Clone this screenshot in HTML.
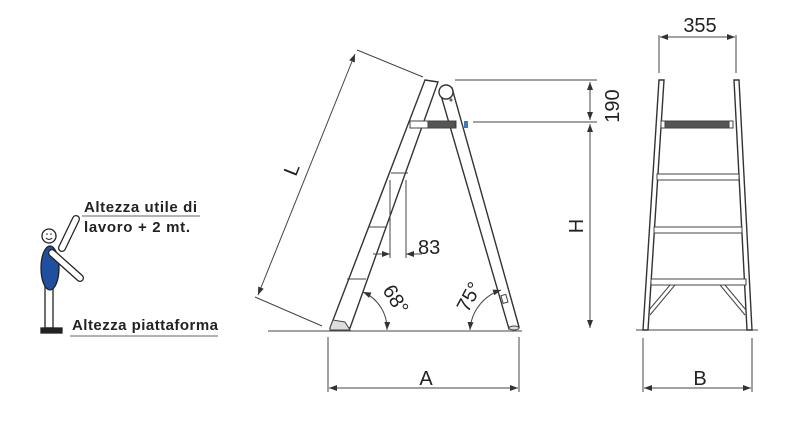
<!DOCTYPE html>
<html><head><style>body{margin:0;background:#fff}svg{display:block}</style></head><body>
<svg width="800" height="431" viewBox="0 0 800 431" xmlns="http://www.w3.org/2000/svg" font-family="Liberation Sans, sans-serif">
<defs><marker id="a" markerWidth="8" markerHeight="6" refX="8" refY="3" orient="auto-start-reverse" markerUnits="userSpaceOnUse"><path d="M0,0L8,3L0,6z" fill="#333"/></marker></defs>
<g stroke="#444" stroke-width="1" fill="none">
<line x1="268" y1="331" x2="522" y2="331"/>
<line x1="636" y1="330" x2="758" y2="330"/>
<path d="M425,80 L438,82 L350,328 L330,328 Z" fill="#fff" stroke="#333" stroke-width="1.4"/>
<path d="M330,328 L333,320 L345,322 L350,330 L330,330Z" fill="#ddd"/>
<path d="M440,92 L452,88 L519,327 L509,329 Z" fill="#fff" stroke="#333" stroke-width="1.4"/>
<ellipse cx="514" cy="328" rx="5" ry="2" fill="#ddd"/>
<rect x="502" y="295" width="5" height="8" transform="rotate(-16 504 299)"/>
<circle cx="446" cy="92" r="7" fill="#fff" stroke="#333" stroke-width="1.4"/>
<circle cx="451" cy="100" r="1"/>
<rect x="410" y="121" width="46" height="7" fill="#fff"/>
<rect x="428" y="121" width="27" height="7" fill="#555"/>
<rect x="464" y="121" width="4" height="7" fill="#3a7bbf" stroke="none"/>
<line x1="391" y1="173" x2="408" y2="173"/>
<line x1="369" y1="227" x2="387" y2="227"/>
<line x1="347" y1="279" x2="366" y2="279"/>
<line x1="390" y1="180" x2="390" y2="258"/>
<line x1="406" y1="180" x2="406" y2="258"/>
<line x1="373" y1="254" x2="390" y2="254" marker-end="url(#a)"/>
<line x1="422" y1="254" x2="406" y2="254" marker-end="url(#a)"/>
<line x1="357" y1="50" x2="423" y2="77"/>
<line x1="255" y1="297" x2="322" y2="326"/>
<line x1="355" y1="54" x2="258" y2="295" marker-start="url(#a)" marker-end="url(#a)"/>
<path d="M363,292 A40,40 0 0 1 387,330" marker-start="url(#a)" marker-end="url(#a)"/>
<path d="M501,290 A45,45 0 0 0 470,330" marker-start="url(#a)" marker-end="url(#a)"/>
<line x1="455" y1="80" x2="597" y2="80"/>
<line x1="473" y1="122" x2="597" y2="122"/>
<line x1="590" y1="82" x2="590" y2="120" marker-start="url(#a)" marker-end="url(#a)"/>
<line x1="590" y1="124" x2="590" y2="328" marker-start="url(#a)" marker-end="url(#a)"/>
<line x1="328" y1="337" x2="328" y2="392"/>
<line x1="519" y1="337" x2="519" y2="392"/>
<line x1="329" y1="388" x2="518" y2="388" marker-start="url(#a)" marker-end="url(#a)"/>
<path d="M659,80 L664,80 L648,330 L643,330Z" fill="#fff" stroke="#333" stroke-width="1.4"/>
<path d="M734,80 L739,80 L752,330 L747,330Z" fill="#fff" stroke="#333" stroke-width="1.4"/>
<rect x="661" y="121" width="72" height="7" fill="#fff"/>
<rect x="665" y="121" width="64" height="7" fill="#555"/>
<rect x="657" y="174" width="82" height="6" fill="#fff"/>
<rect x="654" y="227" width="88" height="6" fill="#fff"/>
<rect x="651" y="279" width="95" height="6" fill="#fff"/>
<path d="M649,310 L670,285 L675,285 L650,315"/>
<path d="M746,310 L725,285 L720,285 L745,315"/>
<line x1="659" y1="35" x2="659" y2="73"/>
<line x1="736" y1="35" x2="736" y2="73"/>
<line x1="660" y1="37" x2="735" y2="37" marker-start="url(#a)" marker-end="url(#a)"/>
<line x1="643" y1="338" x2="643" y2="392"/>
<line x1="752" y1="338" x2="752" y2="392"/>
<line x1="644" y1="388" x2="751" y2="388" marker-start="url(#a)" marker-end="url(#a)"/>
</g>
<g fill="#222" font-size="20">
<text x="426" y="385" text-anchor="middle">A</text>
<text x="700" y="385" text-anchor="middle">B</text>
<text x="700" y="32" text-anchor="middle">355</text>
<text x="418" y="254">83</text>
<text transform="translate(298,172) rotate(-68)" text-anchor="middle">L</text>
<text transform="translate(619,106) rotate(-90)" text-anchor="middle">190</text>
<text transform="translate(583,226) rotate(-90)" text-anchor="middle">H</text>
<text transform="translate(390,303) rotate(58)" text-anchor="middle">68°</text>
<text transform="translate(475,300) rotate(-62)" text-anchor="middle">75°</text>
</g>
<g stroke="#222" stroke-width="1.3">
<line x1="62" y1="248" x2="76" y2="219" stroke-width="8" stroke-linecap="round"/>
<line x1="62" y1="248" x2="76" y2="219" stroke="#fff" stroke-width="5.5" stroke-linecap="round"/>
<rect x="45" y="285" width="8" height="43" fill="#fff"/>
<ellipse cx="50" cy="268" rx="9" ry="22" fill="#1f4f9e"/>
<line x1="52" y1="253" x2="80" y2="278" stroke-width="8" stroke-linecap="round"/>
<line x1="52" y1="253" x2="80" y2="278" stroke="#fff" stroke-width="5.5" stroke-linecap="round"/>
<circle cx="49" cy="236" r="7" fill="#fff"/>
<path d="M46,238 Q49,241 52,238" fill="none" stroke-width="1"/>
<rect x="41" y="328" width="21" height="5" fill="#222"/>
<line x1="82" y1="216" x2="200" y2="216" stroke="#666" stroke-width="1"/>
<line x1="70" y1="336" x2="218" y2="336" stroke="#666" stroke-width="1"/>
</g>
<circle cx="47" cy="234" r="0.8" fill="#222"/><circle cx="51" cy="234" r="0.8" fill="#222"/>
<g fill="#222" font-size="15" font-weight="bold">
<text x="84" y="212" textLength="113">Altezza utile di</text>
<text x="84" y="232" textLength="106">lavoro + 2 mt.</text>
<text x="72" y="330" textLength="146">Altezza piattaforma</text>
</g>
</svg>
</body></html>
